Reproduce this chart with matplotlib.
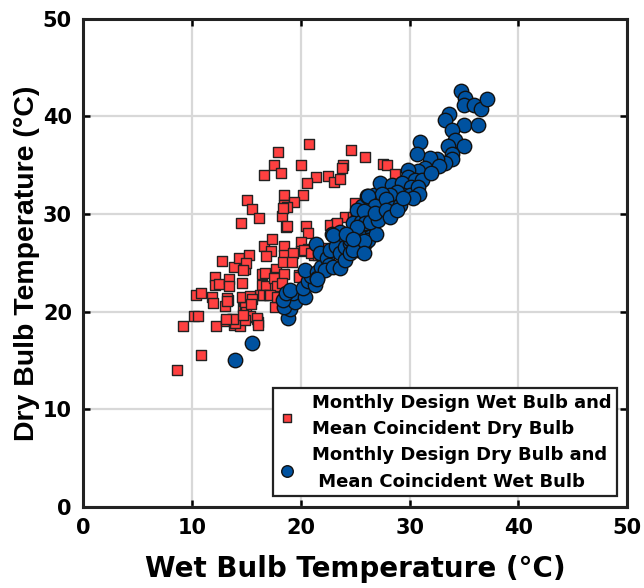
import matplotlib
matplotlib.use("Agg")
import matplotlib.pyplot as plt
import numpy as np

# Monthly design wet bulb (x) with mean coincident dry bulb (y), degC
wb_design_x = [
    8.6, 10.8, 9.2, 10.2, 10.6, 10.4, 10.8, 11.8, 11.9, 12.2, 13.1, 13.3, 13.0,
    13.7, 13.9, 14.4, 14.7, 14.7, 12.1, 12.1, 12.5, 12.8, 13.4, 13.9, 14.3, 14.9,
    15.2, 15.0, 14.6, 14.8, 15.4, 14.9, 15.0, 15.2, 16.0, 16.1, 14.0, 14.5, 15.1,
    15.5, 16.2, 16.6, 17.5, 17.9, 16.4, 16.4, 16.8, 16.3, 16.5, 17.1, 16.6, 17.3,
    17.4, 16.8, 17.7, 17.6, 17.6, 18.2, 18.5, 18.5, 18.3, 18.6, 18.5, 18.5, 18.4,
    16.7, 17.5, 18.5, 13.4, 17.8, 13.2, 14.6, 15.3, 20.8, 24.6, 25.9, 20.0, 23.9,
    23.8, 22.5, 21.4, 23.1, 23.6, 20.6, 20.2, 19.4, 18.7, 18.4, 18.7, 20.5, 20.7,
    24.1, 23.2, 24.8, 20.0, 20.0, 20.7, 19.3, 19.2, 21.2, 22.1, 14.7, 18.3, 17.2,
    15.5, 15.4, 13.2, 19.8, 15.3, 14.9, 13.8, 13.1, 23.0, 27.6, 27.9, 28.7, 27.6,
    27.5, 27.1, 25.0, 24.8, 26.8, 22.7, 23.3, 20.3, 20.9, 21.6, 22.1, 19.8, 17.6,
    17.8, 16.0, 14.7, 16.1,
]
wb_design_y = [
    14.0, 15.6, 18.5, 19.6, 19.6, 21.7, 21.9, 21.5, 20.9, 18.5, 19.0, 21.2, 20.6,
    19.2, 18.6, 18.5, 21.4, 20.5, 23.6, 22.7, 22.8, 25.2, 23.3, 24.6, 25.5, 24.4,
    25.8, 25.0, 22.9, 21.1, 21.3, 20.5, 20.0, 19.4, 19.2, 18.9, 18.8, 29.1, 31.4,
    30.5, 29.6, 34.0, 35.0, 36.4, 23.9, 22.7, 22.6, 21.7, 21.7, 21.7, 26.7, 26.2,
    27.4, 25.7, 24.4, 23.6, 22.6, 34.2, 32.0, 30.9, 29.8, 28.7, 26.7, 25.8, 25.1,
    24.0, 23.4, 23.9, 22.6, 22.6, 21.4, 21.5, 21.6, 37.2, 36.6, 35.8, 35.0, 35.0,
    34.7, 33.9, 33.8, 33.3, 33.6, 33.2, 31.9, 31.2, 30.7, 30.6, 28.8, 28.8, 28.1,
    29.7, 29.0, 29.6, 27.1, 26.2, 26.4, 26.0, 25.1, 25.8, 26.5, 24.3, 22.9, 21.7,
    21.3, 20.8, 21.1, 23.8, 19.6, 19.1, 19.2, 19.2, 28.2, 35.1, 35.0, 34.1, 32.7,
    31.3, 30.8, 31.1, 29.7, 30.1, 28.9, 29.1, 26.3, 26.0, 25.8, 25.6, 23.6, 20.5,
    21.5, 19.3, 19.7, 18.6,
]

# Monthly design dry bulb (y) with mean coincident wet bulb (x), degC
db_design_x = [
    14.0, 15.5, 18.8, 19.0, 18.5, 19.5, 19.3, 18.4, 18.6, 19.0, 20.4, 20.2, 20.7,
    21.3, 20.9, 20.4, 21.5, 21.5, 21.9, 21.4, 21.8, 22.4, 22.6, 22.2, 23.0, 22.7,
    23.2, 23.6, 23.6, 24.1, 22.9, 23.6, 24.1, 24.1, 24.5, 24.5, 25.0, 25.2, 25.3,
    25.9, 25.8, 26.2, 26.4, 25.6, 25.3, 25.9, 25.6, 26.5, 26.8, 26.9, 26.9, 21.5,
    23.0, 24.5, 25.3, 25.2, 26.1, 26.7, 24.8, 25.5, 26.2, 34.7, 35.1, 35.0, 35.9,
    36.6, 37.1, 33.6, 33.3, 35.0, 36.3, 33.9, 34.2, 35.0, 33.5, 33.9, 33.9, 33.3,
    32.5, 31.9, 31.0, 30.7, 32.7, 31.4, 30.8, 29.9, 29.9, 30.5, 31.1, 32.0, 27.3,
    28.4, 29.3, 30.1, 29.4, 28.8, 28.2, 27.5, 26.2, 26.8, 27.8, 28.5, 29.1, 30.0,
    30.8, 30.9, 30.3, 25.8, 25.9, 26.4, 27.1, 26.8, 27.8, 28.2, 28.8, 29.4, 25.2,
    25.3, 25.8, 24.8, 24.2, 24.8, 25.8,
]
db_design_y = [
    15.0, 16.8, 19.3, 20.3, 20.5, 21.0, 21.9, 21.2, 21.9, 22.2, 21.5, 22.4, 23.1,
    22.7, 23.7, 24.3, 24.1, 23.4, 24.6, 26.9, 26.0, 25.5, 24.8, 24.3, 24.6, 26.3,
    26.7, 26.0, 24.5, 25.3, 28.0, 28.2, 27.8, 26.6, 27.0, 26.0, 26.6, 27.5, 26.3,
    27.0, 28.0, 27.3, 29.1, 28.9, 29.9, 30.1, 30.8, 30.9, 30.6, 29.7, 28.0, 23.3,
    27.9, 27.4, 28.0, 30.4, 31.8, 32.0, 29.1, 29.2, 29.2, 42.6, 41.9, 41.2, 41.2,
    40.8, 41.8, 40.2, 39.6, 39.1, 39.1, 38.6, 37.6, 37.0, 37.0, 36.2, 35.6, 35.2,
    35.6, 35.7, 37.4, 36.1, 34.9, 34.7, 34.4, 34.5, 33.8, 33.5, 33.5, 34.2, 33.2,
    33.0, 33.2, 32.8, 32.0, 32.3, 32.0, 32.1, 31.8, 30.8, 31.5, 30.6, 30.9, 32.0,
    32.8, 32.1, 31.6, 30.3, 29.1, 29.2, 29.4, 30.1, 30.4, 29.7, 30.4, 31.6, 28.7,
    27.0, 27.2, 26.3, 28.0, 27.4, 26.0,
]

axis_ticks = [0, 10, 20, 30, 40, 50]
label_wb = "Monthly Design Wet Bulb and\nMean Coincident Dry Bulb"
label_db = "Monthly Design Dry Bulb and\n Mean Coincident Wet Bulb"

wide = ["DejaVu Sans"]
narrow = ["Liberation Sans", "DejaVu Sans"]
plt.rcParams["font.family"] = wide
plt.rcParams["font.weight"] = "bold"

fig = plt.figure(figsize=(6.44, 5.88), dpi=100)
ax = fig.add_axes([0.129, 0.138, 0.845, 0.830])

ax.scatter(wb_design_x, wb_design_y, marker="s", s=60, c="#ff4040",
           edgecolors="#222222", linewidths=1.0, zorder=3, label=label_wb)
ax.scatter(db_design_x, db_design_y, marker="o", s=108, c="#0052a0",
           edgecolors="#111111", linewidths=1.0, zorder=4, label=label_db)

ax.set_xlim(0, 50)
ax.set_ylim(0, 50)
ax.set_xticks(axis_ticks)
ax.set_yticks(axis_ticks)
ax.grid(True, color="#d8d8d8", linewidth=1.6, zorder=0)
ax.set_axisbelow(True)
ax.tick_params(direction="in", length=5, width=1.8, labelsize=15,
               top=True, right=True, pad=8)
for lbl in ax.get_xticklabels() + ax.get_yticklabels():
    lbl.set_fontweight("bold")
for sp in ax.spines.values():
    sp.set_linewidth(2.2)
    sp.set_color("#222222")

ax.set_xlabel("Wet Bulb Temperature (°C)", fontsize=20, fontweight="bold",
              labelpad=12)
ax.set_ylabel("Dry Bulb Temperature (°C)", fontsize=20.5, fontweight="bold",
              family=narrow, labelpad=2)

leg = ax.legend(loc="lower right", bbox_to_anchor=(0.982, 0.022),
                borderaxespad=0, fontsize=13, fancybox=False,
                edgecolor="#222222", framealpha=1, handletextpad=0.9,
                borderpad=0.3, labelspacing=0.45, markerscale=0.8,
                handlelength=1.0)
leg.get_frame().set_linewidth(1.6)
for t in leg.get_texts():
    t.set_fontweight("bold")
    t.set_linespacing(1.6)

fig.savefig("out.png", dpi=100)
